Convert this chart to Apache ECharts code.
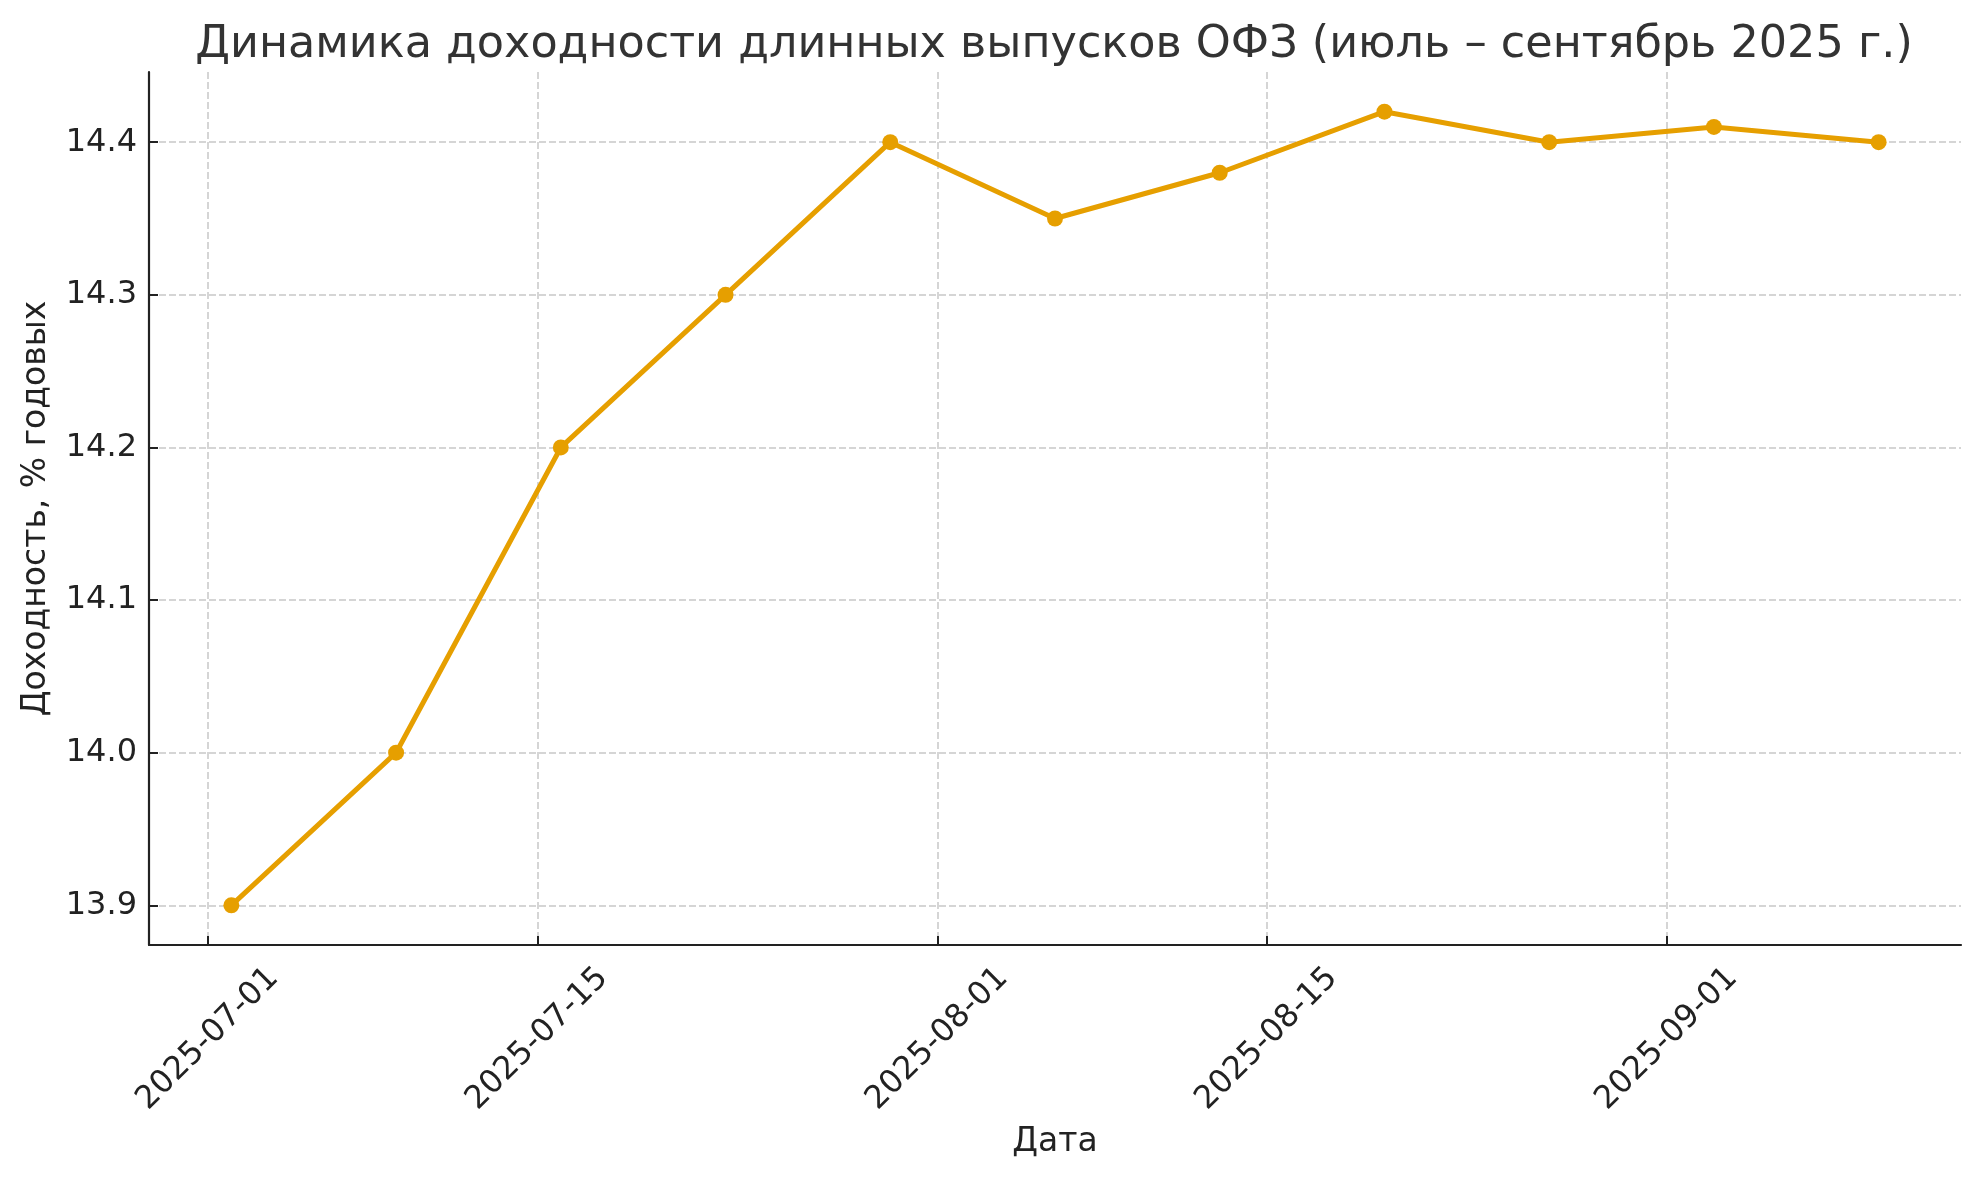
<!DOCTYPE html>
<html>
<head>
<meta charset="utf-8">
<script src="https://cdn.jsdelivr.net/npm/echarts@6/dist/echarts.min.js"></script>
<style>html,body{margin:0;padding:0;background:#fff;}#c{width:1980px;height:1180px;}</style>
</head>
<body>
<div id="c"></div>
<script>
const dates = ['2025-07-02','2025-07-09','2025-07-16','2025-07-23','2025-07-30','2025-08-06','2025-08-13','2025-08-20','2025-08-27','2025-09-03','2025-09-10'];
const yields = [13.90, 14.00, 14.20, 14.30, 14.40, 14.35, 14.38, 14.42, 14.40, 14.41, 14.40];
const xTickLabels = ['2025-07-01','2025-07-15','2025-08-01','2025-08-15','2025-09-01'];
const yTickValues = [13.9, 14.0, 14.1, 14.2, 14.3, 14.4];
const titleText = 'Динамика доходности длинных выпусков ОФЗ (июль – сентябрь 2025 г.)';
const xName = 'Дата';
const yName = 'Доходность, % годовых';

const ts = s => new Date(s + 'T00:00:00Z').getTime();
const DAY = 86400000;
const xMin = ts(dates[0]) - 3.5 * DAY;
const xMax = ts(dates[dates.length - 1]) + 3.5 * DAY;
const yLo = Math.min(...yields), yHi = Math.max(...yields);
const yMin = yLo - 0.05 * (yHi - yLo);
const yMax = yHi + 0.05 * (yHi - yLo);
const pad = n => String(n).padStart(2, '0');
const fmtDate = v => { const d = new Date(v); return d.getUTCFullYear() + '-' + pad(d.getUTCMonth() + 1) + '-' + pad(d.getUTCDate()); };

const font = 'DejaVu Sans';
const chart = echarts.init(document.getElementById('c'), null, {renderer: 'canvas'});
const gridLine = {show: true, lineStyle: {color: '#c8c8c8', width: 1.5, type: [7, 3]}};
chart.setOption({
  animation: false,
  backgroundColor: '#fff',
  title: {
    text: titleText, left: 1049, textAlign: 'center', top: 18,
    textStyle: {fontFamily: font, fontSize: 44.5, fontWeight: 'normal', color: '#333333'}
  },
  grid: {left: 149, right: 19, top: 72, bottom: 235, containLabel: false},
  xAxis: {
    type: 'value', min: xMin, max: xMax, scale: true,
    name: xName, nameLocation: 'middle', nameGap: 181,
    nameTextStyle: {fontFamily: font, fontSize: 33, color: '#222'},
    axisLine: {show: true, onZero: false, lineStyle: {color: '#222', width: 2.2}},
    axisTick: {show: true, inside: true, length: 9, lineStyle: {color: '#222', width: 2}, customValues: xTickLabels.map(ts)},
    axisLabel: {
      customValues: xTickLabels.map(ts), formatter: v => fmtDate(v),
      rotate: 45, align: 'center', verticalAlign: 'middle', margin: 94,
      fontFamily: font, fontSize: 32, color: '#222'
    },
    splitLine: gridLine
  },
  yAxis: {
    type: 'value', min: yMin, max: yMax, scale: true,
    name: yName, nameLocation: 'middle', nameGap: 96,
    nameTextStyle: {fontFamily: font, fontSize: 33, color: '#222'},
    axisLine: {show: true, onZero: false, lineStyle: {color: '#222', width: 2.2}},
    axisTick: {show: true, inside: true, length: 9, lineStyle: {color: '#222', width: 2}, customValues: yTickValues},
    axisLabel: {customValues: yTickValues, formatter: v => v.toFixed(1), margin: 12, fontFamily: font, fontSize: 32, color: '#222'},
    splitLine: gridLine
  },
  series: [{
    type: 'line',
    data: dates.map((d, i) => [ts(d), yields[i]]),
    lineStyle: {color: '#E69F00', width: 5},
    itemStyle: {color: '#E69F00'},
    symbol: 'circle', symbolSize: 16, showSymbol: true
  }]
});
</script>
</body>
</html>
